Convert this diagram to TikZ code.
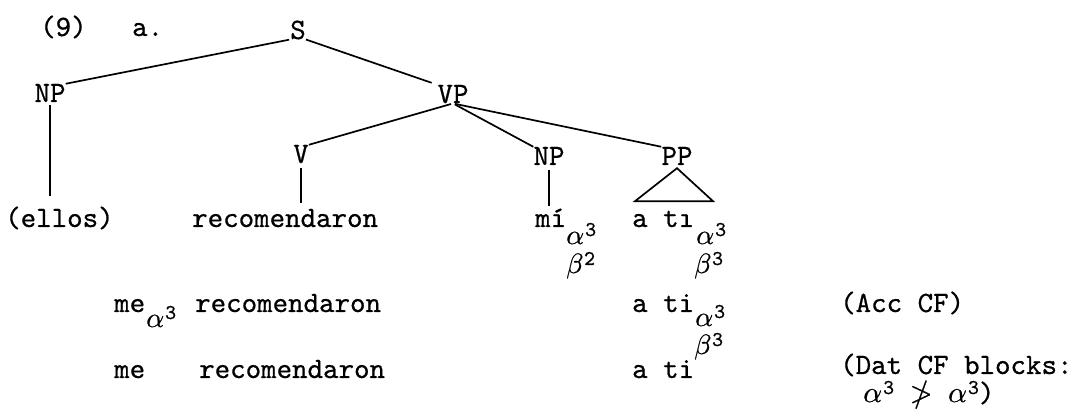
\documentclass[tikz,border=0pt]{standalone}
\usepackage{fontspec}
\usepackage{unicode-math}
\setmonofont{lmmono10-regular.otf}[FakeBold=0.6]
\setmathfont{latinmodern-math.otf}[FakeBold=0.6]
% Greek index letter with a raised typewriter numeral
\newcommand{\gidx}[2]{$#1$\kern1pt\raisebox{8pt}{\fontsize{21}{21}\selectfont\ttfamily #2}}
\begin{document}
\begin{tikzpicture}[x=1pt,y=-1pt,
  tw/.style={font=\fontsize{29.5}{30}\selectfont\ttfamily, inner sep=0pt},
  word/.style={tw, anchor=base west},
  cat/.style={tw, anchor=base},
  idx/.style={font=\fontsize{28}{30}\selectfont, inner sep=0pt, anchor=base west},
  branch/.style={line width=1.7pt}]
\useasboundingbox (0,0) rectangle (1079,411);

% example number
\node[word] (num) at (40,36) {(9)};
\node[word] (sub) at (132,36) {a.};

% tree categories
\node[cat] (S)   at (298,39)  {S};
\node[cat] (NPa) at (50,102)  {NP};
\node[cat] (VP)  at (453,103) {VP};
\node[cat] (V)   at (301,163) {V};
\node[cat] (NPb) at (549,165) {NP};
\node[cat] (PP)  at (677,165) {PP};

% terminal strings
\node[word] (ellos) at (5,227)   {(ellos)};
\node[word] (rec)   at (192,227) {recomendaron};
\node[word] (mi)    at (535,227) {mí};
\node[word] (ati)   at (632,227) {a t\i};
\node[idx] (miA)  at (566,244) {\gidx{\alpha}{3}};
\node[idx] (miB)  at (566,273) {\gidx{\beta}{2}};
\node[idx] (atiA) at (696,244) {\gidx{\alpha}{3}};
\node[idx] (atiB) at (694,273) {\gidx{\beta}{3}};

% branches
\draw[branch, shorten <=1pt] (S.south west) -- (NPa.north east);
\draw[branch, shorten >=6pt] (S.south east) -- (VP.north west);
\draw[branch, shorten <=2pt] (VP.south) -- (V.north east);
\draw[branch, shorten <=2pt] (VP.south) -- (NPb.north west);
\draw[branch, shorten <=2pt] (VP.south) -- (PP.north west);
\draw[branch, shorten <=3pt, shorten >=10pt] (NPa.south) -- (NPa.south |- ellos.north);
\draw[branch, shorten <=5pt, shorten >=6pt] (V.south) -- (V.south |- rec.north);
\draw[branch, shorten <=5pt, shorten >=2pt] (NPb.south) -- (NPb.south |- mi.north);
\draw[branch, line join=miter] ([yshift=-3pt]PP.south) -- ++(-42,33) -- ++(78,0) -- cycle;

% accusative clitic
\node[word] (meA)  at (114,312) {me};
\node[idx]  (meAi) at (146,327) {\gidx{\alpha}{3}};
\node[word] (recA) at (195,312) {recomendaron};
\node[word] (atiC) at (632,312) {a ti};
\node[idx]  (atiCi) at (695,326) {\gidx{\alpha}{3}};
\node[word] (acc)  at (840,312) {(Acc CF)};

% dative clitic
\node[word] (meB)  at (114,378) {me};
\node[word] (recB) at (199,378) {recomendaron};
\node[word] (atiD) at (632,378) {a ti};
\node[idx]  (atiDi) at (694,354) {\gidx{\beta}{3}};
\node[word] (dat)  at (840,374) {(Dat CF blocks:};
\node[word] (dat2) at (863,402) {\gidx{\alpha}{3} $\ngtr$ \gidx{\alpha}{3})};
\end{tikzpicture}
\end{document}
